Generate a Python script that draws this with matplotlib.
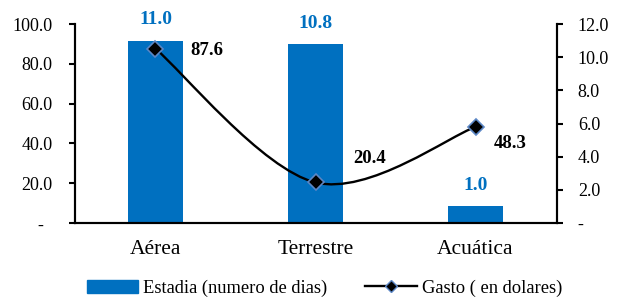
import matplotlib.pyplot as plt
from matplotlib.path import Path
from matplotlib.patches import PathPatch
from matplotlib.lines import Line2D
from matplotlib.patches import Patch
from matplotlib.ticker import FuncFormatter

categorias = ['Aérea', 'Terrestre', 'Acuática']
estadia = [11.0, 10.8, 1.0]
gasto = [87.6, 20.4, 48.3]

azul = '#0070C0'
plt.rcParams['font.family'] = ['Liberation Serif', 'DejaVu Serif']

fig = plt.figure(figsize=(6.23, 2.97), dpi=100)
ax = fig.add_axes([0.1204, 0.249, 0.7736, 0.670])
ax2 = ax.twinx()
ax.set_zorder(ax2.get_zorder() + 1)
ax.patch.set_visible(False)

x = list(range(len(categorias)))
bars = ax2.bar(x, estadia, width=0.344, color=azul)
for xi, v in zip(x, estadia):
    ax2.annotate(f'{v:.1f}', (xi, v), xytext=(0, 15), textcoords='offset points',
                 ha='center', va='center', color=azul, fontweight='bold', fontsize=14)

# smooth line (catmull-rom -> bezier, like excel)
pts = list(zip(x, gasto))
verts = [pts[0]]
codes = [Path.MOVETO]
for i in range(len(pts) - 1):
    p0 = pts[i - 1] if i > 0 else pts[i]
    p1 = pts[i]
    p2 = pts[i + 1]
    p3 = pts[i + 2] if i + 2 < len(pts) else pts[i + 1]
    c1 = (p1[0] + (p2[0] - p0[0]) / 6, p1[1] + (p2[1] - p0[1]) / 6)
    c2 = (p2[0] - (p3[0] - p1[0]) / 6, p2[1] - (p3[1] - p1[1]) / 6)
    verts += [c1, c2, p2]
    codes += [Path.CURVE4] * 3
ax.add_patch(PathPatch(Path(verts, codes), facecolor='none', edgecolor='black', lw=1.7))
ax.plot(x, gasto, linestyle='none', marker='D', markersize=8.5,
        markerfacecolor='black', markeredgecolor='#5B86C5', markeredgewidth=1.2)

offsets = [(25, -1), (27, 17), (13, -12)]
for xi, v, off in zip(x, gasto, offsets):
    ax.annotate(f'{v:.1f}', (xi, v), xytext=off, textcoords='offset points',
                ha='left', va='center', fontweight='bold', fontsize=13.5)

ax.set_xlim(-0.503, 2.509)
ax.set_ylim(0, 100)
ax2.set_ylim(0, 12)
ax.set_yticks(range(0, 101, 20))
ax2.set_yticks(range(0, 13, 2))
ax.yaxis.set_major_formatter(FuncFormatter(lambda v, p: '-  ' if v == 0 else f'{v:.1f}'))
ax2.yaxis.set_major_formatter(FuncFormatter(lambda v, p: '-' if v == 0 else f'{v:.1f}'))
ax.set_xticks(x)
ax.set_xticklabels(categorias)

for a in (ax, ax2):
    a.spines['top'].set_visible(False)
    for s in ('left', 'right', 'bottom'):
        a.spines[s].set_linewidth(1.5)
ax.tick_params(axis='y', direction='out', length=4, width=1.5, pad=12, labelsize=13)
ax2.tick_params(axis='y', direction='out', length=4, width=1.5, pad=11, labelsize=13)
ax.tick_params(axis='x', length=0, pad=12, labelsize=15.5)

handles = [Patch(color=azul),
           Line2D([], [], color='black', lw=1.7, marker='D', markersize=6,
                  markerfacecolor='black', markeredgecolor='#5B86C5')]
fig.legend(handles, ['Estadia (numero de dias)', 'Gasto ( en dolares)'],
           loc='center', bbox_to_anchor=(0.521, 0.03), ncol=2, frameon=False,
           fontsize=13.3, handlelength=2.8, columnspacing=2.05, handletextpad=0.27)

fig.savefig('out.png', dpi=100)
